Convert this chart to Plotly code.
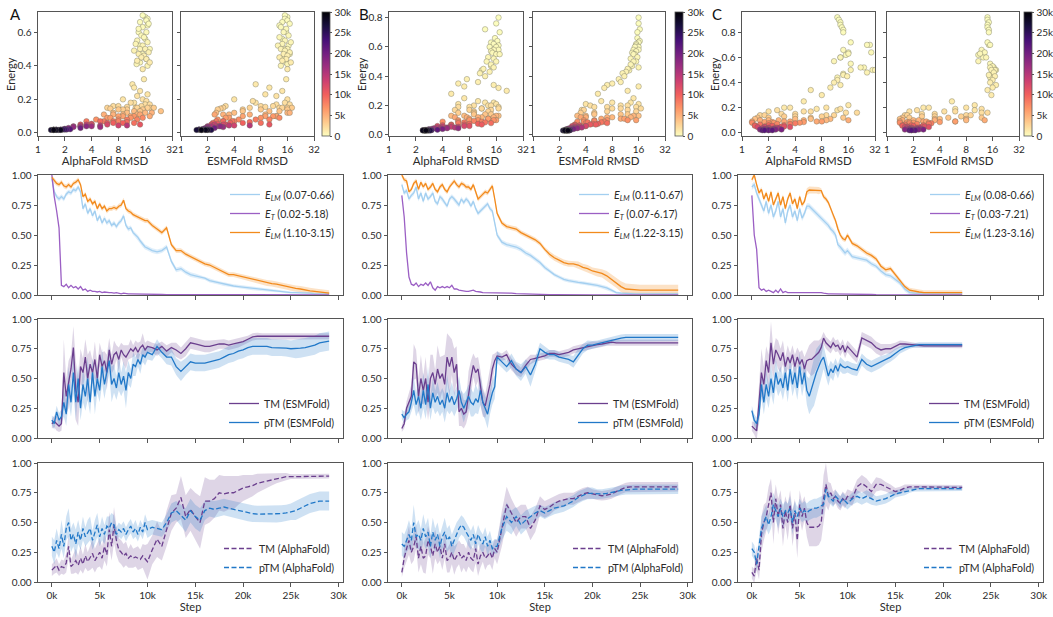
import math
import plotly.graph_objects as go

W, H = 1053, 617
FONT = "Lato"

# ---------------- step grids (x positions) ----------------
steps_ab = list(range(0, 10001, 250)) + list(range(10500, 29001, 500))
steps_c = list(range(0, 10001, 250)) + list(range(10500, 22001, 500))
step_ticks = [0, 5000, 10000, 15000, 20000, 25000, 30000]
step_ticktext = ["0k", "5k", "10k", "15k", "20k", "25k", "30k"]
rmsd_ticks = [1, 2, 4, 8, 16, 32]
cbar_ticks = [0, 5000, 10000, 15000, 20000, 25000, 30000]
cbar_ticktext = ["0", "5k", "10k", "15k", "20k", "25k", "30k"]

# ---------------- column A : energies ----------------
A_elm = [0.97,0.86,0.82,0.8,0.82, 0.8,0.84,0.86,0.85, 0.88,0.87,0.9,0.86, 0.72,0.76,0.68,0.72, 0.66,0.7,0.62,0.66,
         0.6,0.64,0.6,0.62, 0.58,0.6,0.57,0.6, 0.62,0.66,0.58,0.55, 0.56,0.52,0.5,0.48, 0.45,0.42,0.4,0.39] + \
        [0.37,0.36,0.37,0.4, 0.28,0.21,0.22,0.19, 0.17,0.16,0.15,0.14, 0.12,0.11,0.1,0.09, 0.08,0.075,0.07,0.065,
         0.06,0.055,0.05,0.045, 0.04,0.035,0.03,0.03, 0.025,0.02,0.02,0.02, 0.015,0.015,0.01,0.01, 0.01,0.01]
A_et = [1.0,0.82,0.7,0.56,0.08, 0.07,0.09,0.06,0.08, 0.06,0.07,0.05,0.07, 0.04,0.05,0.03,0.04, 0.03,0.03,0.025,0.03,
        0.02,0.025,0.02,0.02, 0.02,0.015,0.02,0.015, 0.01,0.015,0.01,0.01, 0.01,0.01,0.008,0.008, 0.006,0.006,0.005,0.005] + \
       [0.005,0.004,0.004,0.003, 0.003,0.003,0.002,0.002, 0.002,0.002,0.001,0.001, 0.001,0.001,0.001,0.001,
        0.001,0.001,0.001,0.001, 0.001,0.001,0.001,0.001, 0.001,0.001,0.001,0.001, 0.001,0.001,0.001,0.001,
        0.001,0.001,0.001,0.001, 0.001,0.001]
A_etl = [0.98,0.95,0.93,0.92,0.94, 0.91,0.9,0.92,0.9, 0.93,0.94,0.96,0.92, 0.82,0.84,0.78,0.8, 0.76,0.78,0.72,0.76,
         0.72,0.74,0.7,0.72, 0.72,0.73,0.72,0.74, 0.75,0.79,0.72,0.7, 0.69,0.67,0.66,0.65, 0.64,0.63,0.62,0.62] + \
        [0.58,0.55,0.52,0.56, 0.42,0.37,0.37,0.34, 0.32,0.3,0.28,0.26, 0.25,0.23,0.21,0.19, 0.17,0.17,0.16,0.15,
         0.14,0.13,0.12,0.11, 0.1,0.095,0.09,0.08, 0.07,0.06,0.055,0.05, 0.04,0.035,0.03,0.025, 0.02,0.015]
A_elm_sd = [0.02]*41 + [0.02]*10 + [0.015]*14 + [0.01]*14
A_etl_sd = [0.02]*41 + [0.02]*20 + [0.025]*18

# ---------------- column A : ESMFold TM / pTM ----------------
A_tm_esm = [0.12,0.14,0.12,0.1,0.12, 0.55,0.35,0.45,0.58, 0.76,0.4,0.3,0.6, 0.55,0.68,0.5,0.62, 0.55,0.66,0.5,0.7,
            0.6,0.65,0.55,0.74, 0.62,0.7,0.72,0.66, 0.74,0.7,0.68,0.72, 0.75,0.73,0.76,0.72, 0.76,0.78,0.74,0.77] + \
           [0.76,0.74,0.77,0.73, 0.76,0.74,0.71,0.75, 0.8,0.79,0.78,0.77, 0.77,0.78,0.79,0.79, 0.78,0.79,0.8,0.81,
            0.83,0.85,0.855, 0.855,0.855,0.855,0.855,0.855,0.855,0.855,0.855,0.855,0.855,0.855,0.855,0.855,0.855,0.855]
A_ptm_esm = [0.15,0.12,0.22,0.15,0.18, 0.3,0.2,0.45,0.3, 0.55,0.3,0.5,0.25, 0.45,0.35,0.5,0.3, 0.55,0.35,0.5,0.4,
             0.6,0.45,0.55,0.65, 0.45,0.5,0.42,0.55, 0.45,0.52,0.4,0.55, 0.5,0.62,0.6,0.66, 0.62,0.7,0.68,0.72] + \
            [0.7,0.77,0.72,0.68, 0.68,0.6,0.56,0.6, 0.64,0.63,0.63,0.63, 0.64,0.65,0.66,0.68, 0.7,0.71,0.73,0.74,
             0.76,0.77,0.77,0.77, 0.77,0.76,0.76,0.76, 0.755,0.75,0.75,0.755, 0.76,0.77,0.78,0.8, 0.81,0.815]
A_tm_esm_sd = [0.04,0.05,0.06,0.05,0.06, 0.28,0.15,0.2,0.12, 0.18,0.25,0.2,0.15, 0.12,0.15,0.2,0.12, 0.1,0.15,0.12,0.1,
               0.12,0.08,0.15,0.1, 0.08,0.12,0.06,0.1, 0.06,0.08,0.1,0.06, 0.08,0.05,0.06,0.08, 0.05,0.1,0.06,0.05] + \
              [0.04,0.05,0.04,0.05, 0.04,0.06,0.05,0.06, 0.05,0.05,0.05,0.05, 0.05,0.045,0.04,0.04, 0.04,0.04,0.04,0.035,
               0.03,0.03,0.03] + [0.025]*15
A_ptm_esm_sd = [0.04,0.05,0.05,0.06,0.06, 0.12,0.1,0.15,0.12, 0.18,0.15,0.12,0.1, 0.15,0.12,0.18,0.1, 0.12,0.15,0.12,0.1,
                0.15,0.12,0.1,0.12, 0.15,0.12,0.1,0.15, 0.1,0.12,0.15,0.1, 0.08,0.1,0.08,0.06, 0.08,0.06,0.07,0.06] + \
               [0.05,0.06,0.05,0.06, 0.07,0.07,0.08,0.07, 0.07,0.07,0.07,0.07] + [0.07]*18 + [0.08]*8

# ---------------- column A : AlphaFold TM / pTM ----------------
A_tm_af = [0.1,0.12,0.14,0.1,0.13, 0.12,0.16,0.3,0.13, 0.15,0.18,0.14,0.2, 0.15,0.22,0.17,0.2, 0.24,0.18,0.22,0.25,
           0.2,0.3,0.23,0.44, 0.3,0.48,0.35,0.27, 0.25,0.22,0.24,0.2, 0.22,0.2,0.21,0.2, 0.19,0.22,0.19,0.17] + \
          [0.27,0.36,0.3,0.45, 0.58,0.62,0.71,0.55, 0.61,0.55,0.5,0.68, 0.68,0.7,0.75,0.74, 0.75,0.75,0.77,0.79,
           0.8,0.81,0.83,0.84, 0.85,0.86,0.87,0.88, 0.885,0.885,0.885,0.89,0.89,0.89,0.89,0.89,0.89,0.89]
A_ptm_af = [0.3,0.25,0.35,0.28,0.4, 0.3,0.45,0.5,0.35, 0.4,0.32,0.42,0.35, 0.45,0.38,0.42,0.45, 0.35,0.42,0.48,0.38,
            0.45,0.4,0.47,0.45, 0.5,0.48,0.4,0.44, 0.42,0.45,0.4,0.44, 0.47,0.42,0.45,0.4, 0.46,0.42,0.5,0.44] + \
           [0.46,0.45,0.44,0.5, 0.58,0.6,0.56,0.52, 0.6,0.55,0.52,0.6, 0.62,0.61,0.62,0.63, 0.62,0.61,0.6,0.59,
            0.58,0.575,0.57,0.57, 0.57,0.57,0.57,0.575, 0.58,0.59,0.6,0.62, 0.64,0.66,0.67,0.68, 0.68,0.68]
A_tm_af_sd = [0.05,0.05,0.06,0.05,0.06, 0.06,0.08,0.1,0.06, 0.08,0.1,0.08,0.1, 0.08,0.1,0.08,0.1, 0.12,0.1,0.1,0.12,
              0.1,0.12,0.1,0.15, 0.12,0.15,0.12,0.1, 0.1,0.1,0.1,0.08, 0.1,0.08,0.08,0.1, 0.08,0.1,0.12,0.15] + \
             [0.12,0.15,0.12,0.15, 0.15,0.12,0.18,0.18, 0.18,0.2,0.22,0.2, 0.18,0.16,0.15,0.15, 0.14,0.14,0.12,0.11,
              0.1,0.09,0.08,0.07, 0.06,0.05,0.04,0.035, 0.03] + [0.02]*9
A_ptm_af_sd = [0.08,0.1,0.1,0.08,0.12, 0.1,0.1,0.12,0.1, 0.1,0.12,0.1,0.08, 0.1,0.08,0.1,0.1, 0.08,0.1,0.1,0.08,
               0.1,0.08,0.08,0.1, 0.08,0.08,0.06,0.06, 0.06,0.06,0.06,0.06, 0.06,0.06,0.07,0.06, 0.06,0.06,0.07,0.07] + \
              [0.06,0.06,0.06,0.07, 0.08,0.08,0.09,0.1, 0.1,0.1,0.1,0.08] + [0.07]*18 + [0.08]*8

# ---------------- column B : energies ----------------
B_elm = [0.92,0.85,0.87,0.8,0.83, 0.85,0.9,0.8,0.85, 0.78,0.85,0.8,0.82, 0.85,0.78,0.76,0.82, 0.8,0.77,0.74,0.8,
         0.82,0.8,0.77,0.75, 0.8,0.77,0.8,0.78, 0.74,0.78,0.72,0.68, 0.7,0.72,0.74,0.76, 0.72,0.7,0.6,0.5] + \
        [0.44,0.42,0.41,0.4, 0.38,0.35,0.33,0.3, 0.27,0.23,0.2,0.17, 0.15,0.13,0.12,0.11, 0.105,0.1,0.095,0.09,
         0.08,0.07,0.06,0.04, 0.02,0.015,0.012,0.01] + [0.01]*10
B_et = [0.83,0.65,0.35,0.15,0.09, 0.08,0.1,0.07,0.09, 0.08,0.1,0.08,0.11, 0.06,0.04,0.07,0.06, 0.07,0.06,0.07,0.06,
        0.08,0.05,0.05,0.04, 0.035,0.03,0.03,0.03, 0.035,0.04,0.03,0.03, 0.025,0.02,0.02,0.02, 0.02,0.02,0.02,0.02] + \
       [0.018,0.015,0.015,0.012, 0.01,0.01,0.008,0.006, 0.005,0.004,0.003,0.003, 0.002,0.002,0.002] + [0.001]*23
B_etl = [1.0,0.96,0.95,0.86,0.88, 0.93,0.95,0.88,0.94, 0.9,0.93,0.88,0.9, 0.93,0.88,0.86,0.9, 0.92,0.88,0.86,0.9,
         0.93,0.95,0.92,0.9, 0.93,0.92,0.9,0.9, 0.88,0.92,0.86,0.8, 0.82,0.84,0.86,0.85, 0.88,0.91,0.8,0.68] + \
        [0.6,0.57,0.56,0.55, 0.52,0.5,0.48,0.46, 0.43,0.38,0.34,0.31, 0.29,0.27,0.26,0.26, 0.25,0.23,0.22,0.2,
         0.19,0.18,0.16,0.13, 0.1,0.07,0.05,0.045] + [0.04]*10
B_elm_sd = [0.02]*41 + [0.02]*10 + [0.015]*14 + [0.01]*14
B_etl_sd = [0.02]*41 + [0.02,0.02,0.02,0.02, 0.02,0.02,0.02,0.02, 0.02,0.02,0.025,0.025, 0.025,0.025,0.025,0.025,
                        0.03,0.03,0.03,0.03, 0.035,0.035,0.04,0.04, 0.04,0.045,0.045,0.045] + [0.045]*10

# ---------------- column B : ESMFold TM / pTM ----------------
B_tm_esm = [0.08,0.12,0.25,0.3,0.35, 0.64,0.62,0.35,0.5, 0.4,0.5,0.3,0.5, 0.55,0.45,0.58,0.5, 0.54,0.45,0.68,0.6,
            0.68,0.55,0.62,0.22, 0.25,0.2,0.22,0.38, 0.5,0.61,0.55,0.58, 0.42,0.3,0.27,0.35, 0.45,0.58,0.65,0.69] + \
           [0.68,0.7,0.62,0.58, 0.55,0.61,0.66,0.67, 0.68,0.69,0.71,0.71, 0.7,0.71,0.72,0.74, 0.75,0.76,0.77,0.78,
            0.785,0.79,0.8,0.805] + [0.8]*14
B_ptm_esm = [0.2,0.17,0.2,0.22,0.3, 0.4,0.28,0.35,0.25, 0.4,0.28,0.45,0.25, 0.38,0.3,0.35,0.28, 0.32,0.25,0.38,0.3,
             0.35,0.28,0.33,0.4, 0.3,0.25,0.3,0.35, 0.3,0.28,0.33,0.3, 0.4,0.3,0.25,0.2, 0.3,0.38,0.43,0.68] + \
            [0.64,0.6,0.65,0.58, 0.55,0.6,0.53,0.62, 0.75,0.72,0.7,0.7, 0.68,0.67,0.66,0.64, 0.7,0.75,0.78,0.78,
             0.79,0.8,0.81,0.82, 0.835,0.84] + [0.845]*12
B_tm_esm_sd = [0.03,0.04,0.06,0.08,0.1, 0.15,0.12,0.15,0.2, 0.12,0.18,0.15,0.2, 0.15,0.12,0.2,0.18, 0.15,0.25,0.2,0.25,
               0.15,0.2,0.15,0.12, 0.15,0.12,0.1,0.18, 0.15,0.1,0.12,0.1, 0.15,0.12,0.1,0.12, 0.15,0.12,0.06,0.04] + \
              [0.03,0.04,0.05,0.05, 0.04,0.05,0.04,0.03, 0.03,0.03,0.03,0.03, 0.03,0.03,0.03,0.03, 0.03,0.03,0.03,0.03,
               0.025,0.025,0.025,0.025] + [0.025]*14
B_ptm_esm_sd = [0.04,0.05,0.05,0.06,0.08, 0.12,0.1,0.12,0.1, 0.15,0.12,0.15,0.1, 0.12,0.1,0.12,0.1, 0.1,0.12,0.15,0.1,
                0.12,0.1,0.1,0.12, 0.1,0.12,0.1,0.1, 0.12,0.1,0.12,0.1, 0.12,0.1,0.1,0.12, 0.1,0.1,0.1,0.05] + \
               [0.05,0.05,0.06,0.06, 0.07,0.06,0.1,0.06, 0.05,0.05,0.04,0.04, 0.04,0.04,0.04,0.05, 0.05,0.04,0.04,0.035,
                0.03,0.03,0.03,0.03] + [0.03]*14

# ---------------- column B : AlphaFold TM / pTM ----------------
B_tm_af = [0.08,0.2,0.28,0.35,0.25, 0.3,0.38,0.2,0.3, 0.2,0.22,0.35,0.3, 0.22,0.32,0.25,0.3, 0.2,0.32,0.18,0.2,
           0.25,0.18,0.22,0.25, 0.2,0.22,0.18,0.25, 0.2,0.18,0.28,0.15, 0.22,0.25,0.2,0.22, 0.25,0.2,0.28,0.25] + \
          [0.45,0.65,0.58,0.5, 0.55,0.55,0.45,0.52, 0.64,0.61,0.63,0.66, 0.68,0.69,0.7,0.7, 0.72,0.74,0.75,0.74,
           0.73,0.725,0.73,0.74, 0.76,0.78,0.795] + [0.8]*11
B_ptm_af = [0.32,0.3,0.35,0.4,0.35, 0.5,0.38,0.4,0.35, 0.45,0.38,0.42,0.3, 0.42,0.35,0.4,0.3, 0.38,0.42,0.35,0.38,
            0.3,0.35,0.4,0.45, 0.48,0.46,0.42,0.38, 0.35,0.4,0.32,0.4, 0.35,0.32,0.38,0.3, 0.35,0.28,0.3,0.3] + \
           [0.45,0.55,0.5,0.55, 0.48,0.52,0.55,0.58, 0.6,0.58,0.6,0.62, 0.63,0.64,0.66,0.68, 0.71,0.73,0.745,0.745,
            0.74,0.74,0.745,0.75, 0.76,0.77,0.775] + [0.78]*11
B_tm_af_sd = [0.04,0.08,0.1,0.12,0.1, 0.12,0.1,0.12,0.15, 0.12,0.15,0.12,0.1, 0.15,0.12,0.1,0.12, 0.1,0.12,0.1,0.12,
              0.1,0.12,0.1,0.1, 0.12,0.1,0.1,0.12, 0.1,0.1,0.12,0.1, 0.1,0.08,0.1,0.08, 0.1,0.1,0.08,0.1] + \
             [0.15,0.15,0.12,0.12, 0.1,0.1,0.1,0.1, 0.08,0.07,0.07,0.06, 0.06,0.06,0.05,0.05, 0.05,0.05,0.05,0.04,
              0.04,0.04,0.04,0.04, 0.04,0.04,0.04,0.04] + [0.04]*10
B_ptm_af_sd = [0.1,0.1,0.1,0.12,0.1, 0.15,0.1,0.12,0.1, 0.12,0.1,0.12,0.1, 0.12,0.1,0.1,0.1, 0.1,0.12,0.1,0.1,
               0.1,0.1,0.1,0.08, 0.08,0.08,0.08,0.08, 0.08,0.08,0.08,0.08, 0.08,0.08,0.08,0.08, 0.08,0.06,0.06,0.06] + \
              [0.1,0.12,0.1,0.08, 0.08,0.08,0.07,0.06, 0.05,0.05,0.05,0.05, 0.05,0.05,0.05,0.05, 0.05,0.05,0.05,0.05,
               0.04,0.04,0.04,0.04, 0.04,0.04,0.04,0.04] + [0.04]*10

# ---------------- column C : energies ----------------
C_elm = [0.9,0.92,0.85,0.8,0.76, 0.7,0.78,0.68,0.75, 0.65,0.7,0.78,0.65, 0.72,0.6,0.7,0.75, 0.65,0.7,0.62,0.72,
         0.64,0.68,0.74,0.74, 0.72,0.7,0.68,0.66, 0.64,0.62,0.6,0.58, 0.55,0.53,0.5,0.42, 0.4,0.37,0.35,0.37] + \
        [0.32,0.31,0.3,0.29, 0.26,0.24,0.2,0.17, 0.16,0.13,0.1,0.05, 0.02] + [0.015]*11
C_et = [0.83,0.5,0.38,0.06,0.04, 0.05,0.03,0.04,0.03, 0.02,0.04,0.02,0.05, 0.02,0.03,0.02,0.02, 0.02,0.025,0.02,0.02,
        0.02,0.02,0.02,0.02, 0.02,0.02,0.02,0.02, 0.02,0.015,0.01,0.01, 0.01,0.01,0.008,0.008, 0.006,0.006,0.005,0.005] + \
       [0.005,0.005,0.005,0.004, 0.004,0.003,0.003,0.003, 0.002,0.002,0.002,0.002] + [0.001]*12
C_etl = [0.96,1.0,0.92,0.85,0.88, 0.8,0.85,0.78,0.86, 0.75,0.8,0.85,0.75, 0.82,0.72,0.8,0.85, 0.76,0.8,0.72,0.82,
         0.75,0.78,0.86,0.875, 0.875,0.875,0.875,0.87, 0.87,0.82,0.8,0.77, 0.72,0.66,0.62,0.55, 0.5,0.47,0.46,0.5] + \
        [0.43,0.41,0.38,0.35, 0.33,0.3,0.24,0.21, 0.22,0.17,0.12,0.07, 0.04,0.03,0.025] + [0.02]*9
C_elm_sd = [0.025]*41 + [0.02]*13 + [0.01]*11
C_etl_sd = [0.02]*23 + [0.03]*6 + [0.02]*12 + [0.02]*24

# ---------------- column C : ESMFold TM / pTM ----------------
C_tm_esm = [0.1,0.08,0.06,0.3,0.55, 0.45,0.65,0.55,0.8, 0.62,0.74,0.7,0.65, 0.72,0.6,0.68,0.63, 0.7,0.6,0.68,0.62,
            0.66,0.58,0.65,0.66, 0.66,0.68,0.7,0.72, 0.76,0.84,0.8,0.78, 0.76,0.8,0.77,0.78, 0.74,0.78,0.72,0.77] + \
           [0.72,0.68,0.84,0.82, 0.8,0.76,0.74,0.75, 0.75,0.77,0.79,0.79, 0.785,0.78] + [0.775]*10
C_ptm_esm = [0.23,0.15,0.12,0.2,0.45, 0.3,0.45,0.35,0.5, 0.38,0.55,0.45,0.5, 0.42,0.55,0.4,0.58, 0.45,0.55,0.42,0.6,
             0.45,0.55,0.4,0.35, 0.42,0.47,0.55,0.6, 0.65,0.68,0.6,0.52, 0.58,0.55,0.61,0.56, 0.62,0.6,0.59,0.6] + \
            [0.58,0.57,0.66,0.62, 0.6,0.62,0.64,0.66, 0.68,0.71,0.74,0.76, 0.77,0.78] + [0.785]*10
C_tm_esm_sd = [0.04,0.05,0.08,0.15,0.2, 0.15,0.12,0.15,0.18, 0.12,0.1,0.12,0.1, 0.1,0.08,0.1,0.08, 0.08,0.1,0.08,0.1,
               0.08,0.1,0.08,0.12, 0.14,0.14,0.12,0.1, 0.08,0.05,0.05,0.05, 0.05,0.05,0.05,0.05, 0.05,0.05,0.05,0.05] + \
              [0.05,0.05,0.05,0.05, 0.05,0.05,0.05,0.04, 0.04,0.03,0.03,0.025] + [0.02]*12
C_ptm_esm_sd = [0.04,0.05,0.05,0.08,0.12, 0.1,0.12,0.1,0.12, 0.1,0.12,0.1,0.1, 0.1,0.12,0.1,0.1, 0.1,0.12,0.1,0.12,
                0.1,0.1,0.12,0.15, 0.18,0.2,0.2,0.18, 0.15,0.1,0.08,0.08, 0.07,0.07,0.06,0.06, 0.06,0.06,0.05,0.05] + \
               [0.05,0.05,0.05,0.05, 0.05,0.05,0.05,0.04, 0.04,0.04,0.03,0.03] + [0.02]*12

# ---------------- column C : AlphaFold TM / pTM ----------------
C_tm_af = [0.08,0.05,0.2,0.1,0.4, 0.5,0.55,0.65,0.75, 0.5,0.7,0.55,0.65, 0.45,0.6,0.5,0.65, 0.45,0.58,0.35,0.65,
           0.55,0.62,0.5,0.46, 0.46,0.46,0.46,0.47, 0.5,0.7,0.82,0.72, 0.75,0.7,0.72,0.68, 0.66,0.7,0.68,0.72] + \
          [0.7,0.8,0.83,0.8, 0.76,0.82,0.82,0.8, 0.78,0.76,0.77,0.79, 0.8,0.8] + [0.795]*10
C_ptm_af = [0.28,0.25,0.15,0.3,0.45, 0.5,0.55,0.48,0.55, 0.65,0.6,0.55,0.62, 0.55,0.6,0.58,0.62, 0.5,0.6,0.55,0.62,
            0.58,0.6,0.58,0.6, 0.61,0.62,0.62,0.63, 0.64,0.65,0.78,0.72, 0.7,0.68,0.72,0.7, 0.67,0.7,0.68,0.66] + \
           [0.7,0.72,0.7,0.72, 0.7,0.68,0.69,0.7, 0.72,0.74,0.75,0.76, 0.77,0.78] + [0.785]*10
C_tm_af_sd = [0.05,0.06,0.1,0.08,0.15, 0.15,0.12,0.15,0.12, 0.18,0.12,0.15,0.12, 0.15,0.12,0.15,0.12, 0.15,0.12,0.15,0.12,
              0.12,0.1,0.12,0.16, 0.16,0.16,0.16,0.16, 0.15,0.2,0.18,0.12, 0.08,0.06,0.06,0.06, 0.06,0.06,0.06,0.06] + \
             [0.06,0.06,0.07,0.07, 0.06,0.06,0.05,0.04, 0.04,0.03,0.03,0.03] + [0.02]*12
C_ptm_af_sd = [0.06,0.06,0.06,0.08,0.1, 0.1,0.1,0.08,0.1, 0.1,0.08,0.1,0.08, 0.1,0.08,0.08,0.1, 0.1,0.08,0.08,0.08,
               0.08,0.08,0.08,0.08, 0.08,0.08,0.08,0.08, 0.08,0.08,0.06,0.05, 0.05,0.05,0.05,0.05, 0.05,0.05,0.05,0.05] + \
              [0.05,0.05,0.05,0.05, 0.05,0.04,0.04,0.04, 0.04,0.03,0.03,0.03] + [0.02]*12

# ---------------- scatter samples (step, energy, AlphaFold RMSD, ESMFold RMSD) ----------------
A_sc_step = [0,50,100,150,200,250,300,350,400,450,500,550,600,650,700,750,800,850,900,950,1000,1050,1100,1150,
             1200,1300,1400,1500,1600,1700,1800,1900,2000,2100,2200,2300,2400,
             2600,2800,3000,3200,3400,3600,3800,4000,4200,4400,4600,4800,5000,5300,5600,5900,
             6200,6600,7000,7400,7800,8200,8600,9000,9500,10000,10500,11000,11500,
             12000,13000,14000,15000,16000,17000,18000,19000,20000,21000,
             22000,23000,24000,25000,26000,27000,28000,29000,
             25,75,125,175,225,275,325,375,425,475,525,575,
             1550,1750,1950,2150,2350,2550,2750,2950,3150,3350,
             4100,4500,4900,5400,5800,6300,6800,7300,7800,8300,8800,9300,
             10200,10800,12500,13500,14500,15500,16500,17500,
             22500,23500,24500,26500,28500]
A_sc_energy = [0.69,0.68,0.66,0.65,0.63,0.62,0.6,0.58,0.57,0.55,0.54,0.53,0.52,0.5,0.5,0.49,0.48,0.47,0.46,0.45,0.44,0.43,0.42,0.38,
               0.32,0.29,0.27,0.25,0.23,0.22,0.2,0.19,0.18,0.17,0.16,0.16,0.15,
               0.15,0.15,0.14,0.15,0.14,0.13,0.13,0.12,0.13,0.12,0.11,0.12,0.11,0.1,0.11,0.1,
               0.09,0.1,0.08,0.09,0.07,0.08,0.07,0.06,0.07,0.06,0.06,0.05,0.05,
               0.05,0.045,0.04,0.045,0.04,0.035,0.04,0.03,0.03,0.025,
               0.022,0.02,0.02,0.02,0.018,0.018,0.018,0.018,
               0.7,0.67,0.64,0.6,0.56,0.52,0.5,0.47,0.44,0.42,0.41,0.4,
               0.2,0.18,0.17,0.16,0.155,0.15,0.15,0.145,0.14,0.14,
               0.12,0.11,0.11,0.1,0.1,0.09,0.09,0.08,0.08,0.07,0.07,0.065,
               0.06,0.055,0.05,0.05,0.045,0.04,0.04,0.035,
               0.02,0.02,0.02,0.018,0.018]
A_sc_af = [16,17,14,17.5,15,13.5,16.5,14.5,15.5,13,17,12.5,15,14,16,12,17.5,13.5,15.5,14.5,16.5,13,18,15,
           15.5,11.5,12,14,17,13,15,16.5,11,18,14.5,8,12.5,
           6,17,10,20,8,14,24,7,12,16,9,19,5.5,11,14,8,
           6,12,4.5,15,8,10,3.5,12,5,9,6,14,3,
           4,8,3,10,2.5,5,3.5,2.2,3,2,
           2.3,1.8,2,1.5,1.7,1.4,1.6,1.5,
           15,16.5,17,13.5,16,14,18,15,16.5,14,12.8,17,
           9,12,16,7,10,13,18,6.5,9,15,
           10,13,7,18,9,6.5,11,8,13,5.5,7,10,
           7,4,6,3.5,5,3,4,2.5,
           2.1,1.6,1.9,1.5,1.8]
A_sc_esm = [16,15,14,17,13.5,15.5,14.5,16.5,13,15,17.5,14,12.5,16,13.5,15,17,14.5,16,13,15.5,14,17.5,16,
            15.5,7,10,14,9,12,16,6.5,15,17,11,8,13,
            3,16,2.6,18,8,5,13,2.5,10,16,3.5,17,6,12,2.4,9,
            3.5,11,2.6,13,4,7,2.5,8,3,5,2.3,10,3.2,
            2.2,4,2.5,6,2,3,2.8,1.9,2.4,1.8,
            2,1.7,1.9,1.6,2.2,1.5,2,1.7,
            15,16,13,15.5,14,16.5,15,17,14.5,15.5,16,13.5,
            4,7,12,3.2,9,14,6,2.8,5,16,
            4,9,3,12,5,3.2,8,4.5,10,3,3.8,6,
            3.6,2.6,3,2.4,3.5,2.2,2.7,2,
            1.8,1.6,2.1,1.7,1.9]

B_sc_step = [0,50,100,150,200,250,300,350,400,450,500,550,600,650,700,750,800,850,900,950,1000,1050,1100,1150,
             1200,1350,1500,1650,1800,1950,2100,2250,2400,2550,2700,
             3000,3300,3600,3900,4200,4500,4800,5100,5400,5700,6000,6400,6800,
             7200,7700,8200,8700,9200,9700,10200,10700,11200,11700,12200,12700,
             13500,14500,15500,16500,17500,18500,19500,20500,21500,
             22500,23500,24500,25500,26500,27500,28500,29000,
             25,75,125,175,225,275,325,375,425,475,525,575,
             1300,1450,1600,1750,1900,2050,2200,2350,2500,2650,
             3200,3700,4100,4600,5000,5500,6000,6500,7000,7500,8000,8500,
             9500,10500,11500,12500,14000,15000,16000,17000,
             22000,24000,26000,27000,28000]
B_sc_energy = [0.8,0.72,0.66,0.63,0.61,0.6,0.58,0.56,0.55,0.53,0.5,0.48,0.46,0.45,0.43,0.42,0.4,0.38,0.36,0.35,0.34,0.33,0.32,0.3,
               0.28,0.25,0.22,0.21,0.2,0.2,0.19,0.18,0.18,0.17,0.16,
               0.15,0.14,0.14,0.13,0.13,0.12,0.12,0.12,0.11,0.11,0.1,0.1,0.1,
               0.09,0.095,0.08,0.085,0.08,0.07,0.075,0.07,0.065,0.06,0.06,0.055,
               0.055,0.05,0.05,0.045,0.045,0.04,0.04,0.038,0.035,
               0.034,0.032,0.032,0.03,0.03,0.03,0.03,0.03,
               0.76,0.7,0.64,0.62,0.6,0.58,0.57,0.55,0.52,0.5,0.47,0.44,
               0.23,0.22,0.21,0.2,0.19,0.19,0.18,0.17,0.17,0.16,
               0.15,0.14,0.13,0.13,0.12,0.12,0.11,0.1,0.1,0.09,0.09,0.085,
               0.075,0.07,0.065,0.06,0.055,0.05,0.045,0.045,
               0.034,0.032,0.03,0.03,0.03]
B_sc_af = [17,12,15.5,14,17,16,15,14.5,17.5,13,16,14,15,11.5,13.5,10.5,12,7.5,10,6,15,7,17,21,
           5,7,12,16,9,14,6,17,11,8,13,
           6,14,9,17,5,11,15,7.5,13,8,16,6,10,
           4,9,6,12,14,5,10,7,4,8,3.5,6,
           5,3.5,4.5,3.2,6,3,4,2.8,3.5,
           2.6,3,2.4,2.8,2.5,2.7,2.4,2.6,
           16,17.5,16.5,15,13.5,17,14,16,15,12.5,14,11,
           10,15,6,13,8,17,11,5.5,14,9,
           9,12,7,16,10,5.5,13,8,15,6,11,7,
           8,11,5,7,4,5.5,3.8,4.5,
           2.8,2.5,2.9,2.6,2.5]
B_sc_esm = [16,16.5,15.5,16,15,14.5,16,13.5,14,15.5,14,13,16,12,11.5,10.5,11,9.5,10,8,7,16,6.5,12,
            5.5,14,8,16,4.5,12,7,17,10,3.8,15,
            3.5,12,5,16,3.2,8,13,4,10,6,15,3.8,7,
            3.2,5,4,6,7,3,5.5,4.5,3,4,2.8,3.5,
            3.2,2.8,3.6,2.6,3.2,2.5,2.9,2.4,2.7,
            2.4,2.6,2.3,2.5,2.2,2.4,2.3,2.5,
            16,15.5,16.5,15,16,14,15,14.5,13,15,13.5,12.5,
            6,13,4,10,5,15,8,3.6,12,7,
            5,10,4,14,7,3.5,11,5,12,3.8,6.5,4.2,
            4.8,5.2,3.4,4,3,3.3,2.8,3,
            2.5,2.4,2.6,2.3,2.4]

C_sc_step = [0,50,100,150,200,250,300,350,400,450,500,550,600,650,700,750,800,850,900,950,1000,1050,1100,1150,
             1200,1350,1500,1650,1800,1950,2100,2250,2400,2550,2700,2850,
             3100,3400,3700,4000,4300,4600,4900,5200,5500,5800,6100,6500,6900,
             7300,7800,8300,8800,9300,9800,10300,10800,11300,11800,12300,12800,
             13500,14500,15500,16500,17500,18500,19500,20500,21500,22000,
             25,75,125,175,225,275,325,375,425,475,525,575,
             1300,1450,1600,1750,1900,2050,2200,2350,2500,2650,
             3300,3600,3900,4200,4500,4800,5100,5400,5700,6000,6300,6600,
             7500,8500,9500,10500,11500,12500,13000,14000,
             15000,17000,19000,21000,21800]
C_sc_energy = [0.92,0.88,0.84,0.8,0.72,0.7,0.66,0.64,0.63,0.6,0.57,0.53,0.52,0.5,0.5,0.48,0.46,0.45,0.42,0.4,0.38,0.36,0.34,0.3,
               0.25,0.22,0.2,0.2,0.19,0.18,0.17,0.16,0.15,0.14,0.14,0.13,
               0.13,0.12,0.12,0.11,0.11,0.1,0.1,0.1,0.09,0.09,0.09,0.085,0.08,
               0.08,0.07,0.075,0.065,0.06,0.06,0.055,0.05,0.05,0.045,0.045,0.04,
               0.04,0.035,0.035,0.03,0.03,0.025,0.025,0.022,0.02,0.02,
               0.9,0.86,0.82,0.7,0.64,0.62,0.6,0.55,0.52,0.5,0.47,0.44,
               0.2,0.19,0.18,0.17,0.17,0.16,0.15,0.14,0.14,0.13,
               0.12,0.12,0.11,0.11,0.1,0.1,0.1,0.09,0.09,0.085,0.085,0.08,
               0.075,0.07,0.06,0.055,0.05,0.045,0.04,0.035,
               0.03,0.03,0.025,0.02,0.02]
C_sc_af = [12,13,13.5,14,17,26,14,29,16,13,11,38,22,17,32,26,14,15.5,12,11,13,10,6,8,
           5,16,3.5,9,13,2.5,6,20,4,11,1.8,8,
           3,14,1.5,6,10,2,5,16,1.3,3.5,8,2.2,4.5,
           1.3,2.5,4,1.6,3,2,1.4,2.8,1.8,3.5,1.5,2.4,
           2,1.7,2.6,1.9,2.3,1.6,2.8,2,2.2,1.8,
           12.5,13,14,28,16,15,13,17,24,30,14,12,
           3,7,12,2,5,15,2.8,9,1.6,4,
           2,6,1.4,4,9,2.6,1.6,7,3,1.8,5,2.3,
           2,3.5,1.4,2.2,3,1.8,2.5,2,
           2.2,1.8,2.4,2,1.7]
C_sc_esm = [14,14.5,14,14.5,14,15,12,13,11.5,13.5,11,16,15,17,15.5,16.5,14.5,17,16,15,17.5,16,14,15.5,
            5.5,10,3,8,12,2.2,6,14,3.5,9,1.7,7,
            2.5,12,1.5,4,8,2,3.5,13,1.4,2.8,6,1.8,3,
            1.4,2.2,3.2,1.6,2.6,1.9,1.5,2.5,1.7,3,1.6,2.2,
            1.9,1.7,2.4,1.8,2.2,1.6,2.6,2,2.1,1.9,
            14,14,14.5,14.5,12,11,12.5,15,16.5,17.5,16,15,
            2.6,6,10,1.8,4.5,12,2.5,8,1.6,3.5,
            1.8,5,1.4,3.5,8,2.3,1.5,6,2.6,1.7,4,2,
            1.8,3,1.5,2,2.7,1.7,2.3,1.9,
            2,1.8,2.3,1.9,1.8]

# ---------------- legend labels ----------------
A_energy_names = ["<i>E</i><sub><i>LM</i></sub> (0.07-0.66)", "<i>E</i><sub><i>T</i></sub> (0.02-5.18)",
                  "<i>Ẽ</i><sub><i>LM</i></sub> (1.10-3.15)"]
B_energy_names = ["<i>E</i><sub><i>LM</i></sub> (0.11-0.67)", "<i>E</i><sub><i>T</i></sub> (0.07-6.17)",
                  "<i>Ẽ</i><sub><i>LM</i></sub> (1.22-3.15)"]
C_energy_names = ["<i>E</i><sub><i>LM</i></sub> (0.08-0.66)", "<i>E</i><sub><i>T</i></sub> (0.03-7.21)",
                  "<i>Ẽ</i><sub><i>LM</i></sub> (1.23-3.16)"]
esm_names = ["TM (ESMFold)", "pTM (ESMFold)"]
af_names = ["TM (AlphaFold)", "pTM (AlphaFold)"]
panel_letters = ["A", "B", "C"]

# ---------------- styling ----------------
C_ELM, C_ET, C_ETL = "#a3cff0", "#9b5fc4", "#f28a1c"
C_TM, C_PTM = "#6b3f8e", "#2178c8"
BAND = {C_ELM: "rgba(163,207,240,0.35)", C_ETL: "rgba(242,138,28,0.25)",
        C_TM: "rgba(107,63,142,0.22)", C_PTM: "rgba(33,120,200,0.22)"}
AX = "#555555"
TXT = "#2a2a2a"
TICK_SIZE = 10


def fx(p):
    return p / W


def fy(p):
    return 1 - p / H


cols = [
    dict(steps=steps_ab, elm=A_elm, et=A_et, etl=A_etl, elm_sd=A_elm_sd, etl_sd=A_etl_sd,
         tm_esm=A_tm_esm, ptm_esm=A_ptm_esm, tm_esm_sd=A_tm_esm_sd, ptm_esm_sd=A_ptm_esm_sd,
         tm_af=A_tm_af, ptm_af=A_ptm_af, tm_af_sd=A_tm_af_sd, ptm_af_sd=A_ptm_af_sd,
         sc_step=A_sc_step, sc_e=A_sc_energy, sc_af=A_sc_af, sc_esm=A_sc_esm, names=A_energy_names,
         line=(38, 343), sc1=(38, 172), sc2=(181, 314), cb=322, ymax=0.72, ymin=-0.018,
         yticks=[0, 0.2, 0.4, 0.6], letter_x=15, leg_r=340, energy_x=10),
    dict(steps=steps_ab, elm=B_elm, et=B_et, etl=B_etl, elm_sd=B_elm_sd, etl_sd=B_etl_sd,
         tm_esm=B_tm_esm, ptm_esm=B_ptm_esm, tm_esm_sd=B_tm_esm_sd, ptm_esm_sd=B_ptm_esm_sd,
         tm_af=B_tm_af, ptm_af=B_ptm_af, tm_af_sd=B_tm_af_sd, ptm_af_sd=B_ptm_af_sd,
         sc_step=B_sc_step, sc_e=B_sc_energy, sc_af=B_sc_af, sc_esm=B_sc_esm, names=B_energy_names,
         line=(388, 692), sc1=(389, 523), sc2=(533, 665), cb=675, ymax=0.838, ymin=-0.008,
         yticks=[0, 0.2, 0.4, 0.6, 0.8], letter_x=364, leg_r=689, energy_x=361),
    dict(steps=steps_c, elm=C_elm, et=C_et, etl=C_etl, elm_sd=C_elm_sd, etl_sd=C_etl_sd,
         tm_esm=C_tm_esm, ptm_esm=C_ptm_esm, tm_esm_sd=C_tm_esm_sd, ptm_esm_sd=C_ptm_esm_sd,
         tm_af=C_tm_af, ptm_af=C_ptm_af, tm_af_sd=C_tm_af_sd, ptm_af_sd=C_ptm_af_sd,
         sc_step=C_sc_step, sc_e=C_sc_energy, sc_af=C_sc_af, sc_esm=C_sc_esm, names=C_energy_names,
         line=(738, 1043), sc1=(742, 875), sc2=(887, 1019), cb=1024, ymax=0.962, ymin=-0.026,
         yticks=[0, 0.2, 0.4, 0.6, 0.8], letter_x=717, leg_r=1040, energy_x=714),
]

for ci, c in enumerate(cols):
    n = len(c["steps"])
    for key in ["elm", "et", "etl", "elm_sd", "etl_sd", "tm_esm", "ptm_esm", "tm_esm_sd", "ptm_esm_sd",
                "tm_af", "ptm_af", "tm_af_sd", "ptm_af_sd"]:
        assert len(c[key]) == n, f"col {ci} {key}: {len(c[key])} != {n}"
    m = len(c["sc_step"])
    for key in ["sc_e", "sc_af", "sc_esm"]:
        assert len(c[key]) == m, f"col {ci} {key}: {len(c[key])} != {m}"

fig = go.Figure()
layout = dict(
    width=W, height=H, autosize=False,
    margin=dict(l=0, r=0, t=0, b=0, autoexpand=False),
    paper_bgcolor="white", plot_bgcolor="white",
    font=dict(family=FONT, size=10.5, color=TXT),
    annotations=[], showlegend=True,
)

ROWS = {"sc": (12, 136), "r2": (175, 295), "r3": (319, 438), "r4": (463, 582)}


def base_axis():
    return dict(showline=True, mirror=True, linecolor=AX, linewidth=1, ticks="outside", ticklen=3.5,
                tickwidth=1, tickcolor=AX, showgrid=False, zeroline=False,
                tickfont=dict(family=FONT, size=TICK_SIZE, color=TXT))


def band(xs, ys, sd, color, ax):
    up = [y + s for y, s in zip(ys, sd)]
    lo = [y - s for y, s in zip(ys, sd)]
    fig.add_trace(go.Scatter(x=list(xs) + list(xs)[::-1], y=up + lo[::-1], mode="lines", fill="toself",
                             fillcolor=BAND[color], line=dict(width=0), hoverinfo="skip", showlegend=False,
                             xaxis="x" + ax, yaxis="y" + ax))


def line(xs, ys, color, name, ax, leg, dash="solid", width=1.3):
    fig.add_trace(go.Scatter(x=xs, y=ys, mode="lines", line=dict(color=color, width=width, dash=dash),
                             name=name, xaxis="x" + ax, yaxis="y" + ax, legend=leg))


legend_count = 0
for ci, c in enumerate(cols):
    base = ci * 5
    ids = [str(base + k + 1) for k in range(5)]
    ca = "coloraxis" if ci == 0 else f"coloraxis{ci + 1}"
    # draw points in step order so later (darker) steps lie on top
    order = sorted(range(len(c["sc_step"])), key=lambda i: c["sc_step"][i])
    st = [c["sc_step"][i] for i in order]
    en = [c["sc_e"][i] for i in order]
    # ---- scatter panels ----
    for k, (rm_raw, dom, title) in enumerate([(c["sc_af"], c["sc1"], "AlphaFold RMSD"),
                                              (c["sc_esm"], c["sc2"], "ESMFold RMSD")]):
        rm = [rm_raw[i] for i in order]
        ax = ids[k]
        fig.add_trace(go.Scatter(x=rm, y=en, mode="markers",
                                 marker=dict(size=5.5, color=st, coloraxis=ca,
                                             line=dict(width=0.6, color="rgba(110,110,90,0.65)")),
                                 showlegend=False, xaxis="x" + ax, yaxis="y" + ax))
        xa = base_axis()
        xa.update(type="log", range=[0, math.log10(32)], tickvals=rmsd_ticks,
                  ticktext=[str(t) for t in rmsd_ticks], domain=[fx(dom[0]), fx(dom[1])], anchor="y" + ax,
                  title=dict(text=title, font=dict(family=FONT, size=11.5, color=TXT), standoff=2))
        ya = base_axis()
        ya.update(range=[c["ymin"], c["ymax"]], tickvals=c["yticks"], tickformat=".1f",
                  domain=[fy(ROWS["sc"][1]), fy(ROWS["sc"][0])], anchor="x" + ax)
        if k == 1:
            ya["showticklabels"] = False
        layout["xaxis" + ax] = xa
        layout["yaxis" + ax] = ya
    layout["annotations"].append(dict(text="Energy", x=fx(c["energy_x"]), y=fy(74), xref="paper", yref="paper",
                                      showarrow=False, textangle=-90, xanchor="center", yanchor="middle",
                                      font=dict(family=FONT, size=11, color=TXT)))
    layout[ca] = dict(colorscale="Magma_r", cmin=0, cmax=30000,
                      colorbar=dict(x=fx(c["cb"]), xanchor="left", y=fy(74), yanchor="middle",
                                    len=124 / H, lenmode="fraction", thickness=8, thicknessmode="pixels",
                                    outlinewidth=0.8, outlinecolor=AX, tickvals=cbar_ticks,
                                    ticktext=cbar_ticktext, ticks="outside", ticklen=2.5, tickcolor=AX,
                                    tickfont=dict(family=FONT, size=10, color=TXT), xpad=0, ypad=0))
    # ---- line panels ----
    s = c["steps"]
    rows = [
        ("r2", [(c["elm"], c["elm_sd"], C_ELM, c["names"][0], "solid"),
                (c["et"], None, C_ET, c["names"][1], "solid"),
                (c["etl"], c["etl_sd"], C_ETL, c["names"][2], "solid")]),
        ("r3", [(c["tm_esm"], c["tm_esm_sd"], C_TM, esm_names[0], "solid"),
                (c["ptm_esm"], c["ptm_esm_sd"], C_PTM, esm_names[1], "solid")]),
        ("r4", [(c["tm_af"], c["tm_af_sd"], C_TM, af_names[0], "5px,2.5px"),
                (c["ptm_af"], c["ptm_af_sd"], C_PTM, af_names[1], "5px,2.5px")]),
    ]
    for ri, (rkey, series) in enumerate(rows):
        ax = ids[2 + ri]
        legend_count += 1
        leg = "legend" if legend_count == 1 else f"legend{legend_count}"
        for ys, sd, col, name, dash in series:
            if sd is not None:
                band(s, ys, sd, col, ax)
        for ys, sd, col, name, dash in series:
            line(s, ys, col, name, ax, leg, dash=dash)
        xa = base_axis()
        xa.update(range=[-1450, 30450], tickvals=step_ticks, ticktext=step_ticktext,
                  domain=[fx(c["line"][0]), fx(c["line"][1])], anchor="y" + ax,
                  showticklabels=(rkey == "r4"))
        if rkey == "r4":
            xa["title"] = dict(text="Step", font=dict(family=FONT, size=11, color=TXT), standoff=2)
        ya = base_axis()
        ya.update(range=[0, 1], tickvals=[0, 0.25, 0.5, 0.75, 1.0], tickformat=".2f",
                  domain=[fy(ROWS[rkey][1]), fy(ROWS[rkey][0])], anchor="x" + ax)
        layout["xaxis" + ax] = xa
        layout["yaxis" + ax] = ya
        if rkey == "r2":
            lg = dict(x=fx(c["leg_r"]), xanchor="right", y=fy(180), yanchor="top")
        elif rkey == "r3":
            lg = dict(x=fx(c["leg_r"]), xanchor="right", y=fy(437), yanchor="bottom")
        else:
            lg = dict(x=fx(c["leg_r"]), xanchor="right", y=fy(582), yanchor="bottom")
        lg.update(bgcolor="rgba(0,0,0,0)", borderwidth=0, font=dict(family=FONT, size=10.5, color=TXT),
                  itemwidth=30, tracegroupgap=0, traceorder="normal")
        layout[leg] = lg
    layout["annotations"].append(dict(text=panel_letters[ci], x=fx(c["letter_x"]), y=fy(14), xref="paper",
                                      yref="paper", showarrow=False, xanchor="center", yanchor="middle",
                                      font=dict(family=FONT, size=15, color="#111")))

fig.update_layout(**layout)
fig.write_html("out.html", config={"displayModeBar": False},
               post_script="document.body.style.margin='0px';")
